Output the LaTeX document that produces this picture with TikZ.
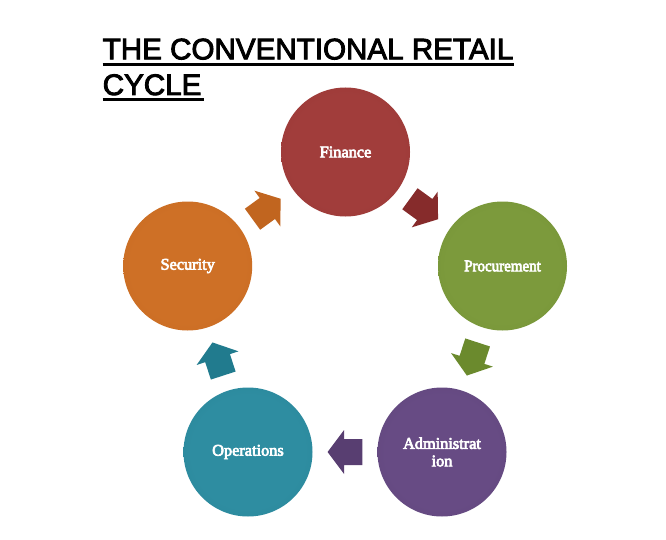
\documentclass[tikz,border=0pt]{standalone}
\usepackage{fontspec}
\setmainfont{Liberation Serif}
\newfontfamily\titlefont[FakeBold=3]{Liberation Sans}
\newfontfamily\lblfont[FakeBold=4]{Liberation Serif}
\usetikzlibrary{calc}
\definecolor{finIn}{HTML}{A13D3B}
\definecolor{finOut}{HTML}{8F3331}
\definecolor{proIn}{HTML}{7C9A3C}
\definecolor{proOut}{HTML}{69872D}
\definecolor{admIn}{HTML}{674B84}
\definecolor{admOut}{HTML}{563F6F}
\definecolor{opsIn}{HTML}{2E8DA1}
\definecolor{opsOut}{HTML}{237A8C}
\definecolor{secIn}{HTML}{CE7026}
\definecolor{secOut}{HTML}{BD631D}
\definecolor{finArr}{HTML}{862B2B}
\definecolor{proArr}{HTML}{6B8A2D}
\definecolor{admArr}{HTML}{583E71}
\definecolor{opsArr}{HTML}{217B8E}
\definecolor{secArr}{HTML}{C1651F}
\pgfdeclareradialshading{finshade}{\pgfpoint{0bp}{0bp}}{color(0bp)=(finIn); color(22bp)=(finIn); color(50bp)=(finOut)}
\pgfdeclareradialshading{proshade}{\pgfpoint{0bp}{0bp}}{color(0bp)=(proIn); color(22bp)=(proIn); color(50bp)=(proOut)}
\pgfdeclareradialshading{admshade}{\pgfpoint{0bp}{0bp}}{color(0bp)=(admIn); color(22bp)=(admIn); color(50bp)=(admOut)}
\pgfdeclareradialshading{opsshade}{\pgfpoint{0bp}{0bp}}{color(0bp)=(opsIn); color(22bp)=(opsIn); color(50bp)=(opsOut)}
\pgfdeclareradialshading{secshade}{\pgfpoint{0bp}{0bp}}{color(0bp)=(secIn); color(22bp)=(secIn); color(50bp)=(secOut)}
% block arrow between two stage nodes: #1 from, #2 to, #3 angle, #4 colour
\newcommand\cyclearrow[4]{%
  \fill[#4, shift={($(#1.center)!0.5!(#2.center)$)}, rotate=#3]
    (-17.4pt,-13pt) -- (0.9pt,-13pt) -- (0.9pt,-22pt) -- (17.4pt,0pt)
    -- (0.9pt,22pt) -- (0.9pt,13pt) -- (-17.4pt,13pt) -- cycle;}
\begin{document}
\begin{tikzpicture}[x=1pt,y=-1pt,
  stage/.style={circle, minimum size=129pt, inner sep=0pt, text=white,
    font=\lblfont\fontsize{16.3}{17.5}\selectfont, align=center, shade},
  ttl/.style={anchor=base west, inner sep=0pt, font=\titlefont\fontsize{29.6}{35}\selectfont},
  uline/.style={line width=3pt}
]
\useasboundingbox (0,0) rectangle (666,540);
\fill[white] (0,0) rectangle (666,540);
% title
\node[ttl] (t1) at (102.5,59.3) {THE CONVENTIONAL RETAIL};
\node[ttl] (t2) at (102.5,95) {CYCLE};
\draw[uline] ([yshift=-4.8pt]t1.base west) -- ([yshift=-4.8pt]t1.base east);
\draw[uline] ([yshift=-4.8pt]t2.base west) -- ([yshift=-4.8pt,xshift=2pt]t2.base east);
% stages
\node[stage, shading=finshade] (f) at (345.5,152) {Finance};
\node[stage, shading=proshade] (p) at (502.5,266) {\scalebox{0.92}[1]{Procurement}};
\node[stage, shading=admshade] (a) at (442,452) {Administrat\\ion};
\node[stage, shading=opsshade] (o) at (248,452) {Operations};
\node[stage, shading=secshade] (s) at (187.7,266) {Security};
% arrows
\cyclearrow{f}{p}{-36}{finArr}
\cyclearrow{p}{a}{-108}{proArr}
\cyclearrow{a}{o}{180}{admArr}
\cyclearrow{o}{s}{108}{opsArr}
\cyclearrow{s}{f}{36}{secArr}
\end{tikzpicture}
\end{document}
